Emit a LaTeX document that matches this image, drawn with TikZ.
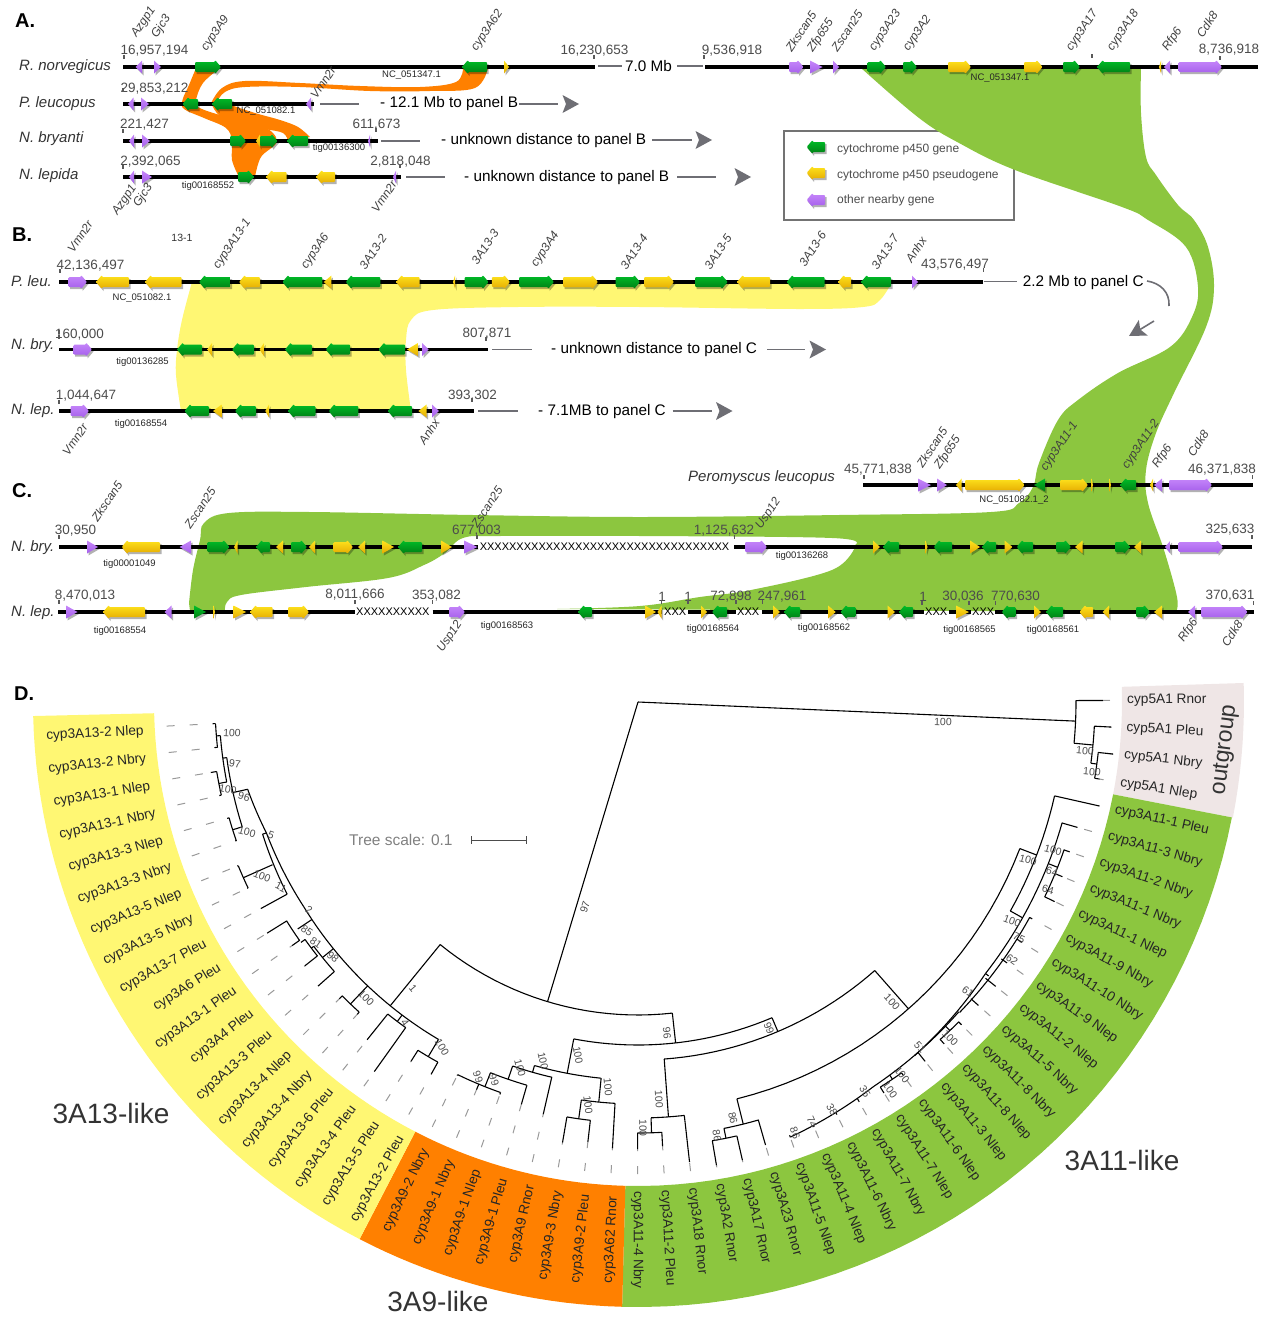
\documentclass[tikz,border=0pt]{standalone}
\usepackage{fontspec}
\setmainfont{Liberation Sans}
\usetikzlibrary{arrows.meta,positioning,calc}
\definecolor{RibOrange}{RGB}{255,128,0}
\definecolor{RibYellow}{RGB}{255,247,115}
\definecolor{RibGreen}{RGB}{140,198,63}
\definecolor{RingGray}{RGB}{239,230,230}
\definecolor{GapGray}{RGB}{110,110,116}
\definecolor{GeneGreenTop}{RGB}{0,190,40}
\definecolor{GeneGreenLow}{RGB}{0,125,20}
\definecolor{GeneYellowTop}{RGB}{255,228,30}
\definecolor{GeneYellowLow}{RGB}{228,170,0}
\definecolor{GenePurpleTop}{RGB}{198,135,250}
\definecolor{GenePurpleLow}{RGB}{165,95,235}
\newcount\nodeid
\newcommand{\fsz}[1]{\fontsize{#1}{#1}\selectfont}
% gene arrow: style, tail x, tip x, y
\newcommand{\gn}[4]{%
  \pgfmathsetmacro{\hx}{#3-6*sign(#3-#2)}%
  \fill[geneshadow] (#2,#4-5) -- (\hx,#4-5) -- (\hx,#4-7) -- (#3,#4) -- (\hx,#4+7) -- (\hx,#4+5) -- (#2,#4+5) -- cycle;
  \path[#1,rounded corners=1pt] (#2,#4-5) -- (\hx,#4-5) -- (\hx,#4-7) -- (#3,#4) -- (\hx,#4+7) -- (\hx,#4+5) -- (#2,#4+5) -- cycle;
}
% triangle gene: style, base x, tip x, y
\newcommand{\tr}[4]{%
  \fill[geneshadow] (#2,#4-6.5) -- (#3,#4) -- (#2,#4+6.5) -- cycle;
  \path[#1] (#2,#4-6.5) -- (#3,#4) -- (#2,#4+6.5) -- cycle;
}
% tick over a sequence end
\newcommand{\tk}[2]{\draw[seqtick] (#1,#2) -- ++(0,4);}
% grey head of a gap arrow: tip x, tip y, angle
\newcommand{\chev}[3]{\fill[GapGray,shift={(#1,#2)},rotate=#3] (-16.5,-9) -- (0,0) -- (-16.5,9) -- (-13,0) -- cycle;}
% tree pieces, in polar coordinates round the ring centre
\newcommand{\tstem}[3]{\draw[tree] (#1:#2) -- (#1:#3);}
\newcommand{\tarc}[3]{\draw[tree] plot[domain=#1:#2,samples=24] (\x:#3);}
\newcommand{\tspir}[4]{\draw[tree] plot[domain=#1:#2,samples=24] (\x:{#3+(#4-#3)*(\x-#1)/(#2-#1)});}
\newcommand{\ttip}[3]{%
  \pgfmathsetmacro{\ta}{3.223*#1-0.19}%
  \draw[leader] (\ta:472) -- (\ta:#3);
  \draw[tree] (\ta:#2) -- (\ta:#3);
}
\begin{document}
\begin{tikzpicture}[x=1pt,y=-1pt,
    autoname/.code={\global\advance\nodeid by 1 \tikzset{name=n\the\nodeid}},
    every node/.append style={autoname},
    geneg/.style={top color=GeneGreenTop,bottom color=GeneGreenLow},
    geney/.style={top color=GeneYellowTop,bottom color=GeneYellowLow},
    genep/.style={top color=GenePurpleTop,bottom color=GenePurpleLow},
    geneshadow/.style={black,opacity=0.3,shift={(1.5,2)}},
    seqline/.style={line width=3.6pt,black},
    gapline/.style={line width=1.6pt,GapGray},
    seqtick/.style={line width=1.2pt,black!65},
    seqpos/.style={font=\fsz{13.5},text=black!70,inner sep=0pt,yshift=-1.5pt},
    contig/.style={font=\fsz{9.5},text=black!85,inner sep=0pt},
    genelab/.style={font=\fsz{12}\itshape,text=black!75,rotate=56,anchor=west,inner sep=0pt,xshift=2pt},
    species/.style={font=\fsz{15}\itshape,text=black!80,anchor=west,inner sep=0pt,yshift=-1.5pt},
    gaptext/.style={font=\fsz{15.3},anchor=west,inner sep=0pt,yshift=-1.5pt},
    panellab/.style={font=\fsz{20}\bfseries,anchor=west,inner sep=0pt},
    xxx/.style={font=\fsz{11},anchor=west,inner sep=0pt},
    legtext/.style={font=\fsz{12},text=black!70,anchor=west,inner sep=0pt,yshift=-1pt},
    tree/.style={line width=1.1pt,black},
    leader/.style={line width=1pt,black!40,dash pattern=on 8pt off 15pt},
    bs/.style={font=\fsz{10.5},text=black!70,inner sep=0pt},
    tiplab/.style={font=\fsz{13.7},text=black!85,inner sep=0pt},
    cladelab/.style={font=\fsz{28},text=black!80,inner sep=0pt}
  ]
    \useasboundingbox (0,0) rectangle (1265,1317);

    % legend frame goes under the ribbons
    \draw[line width=2.4pt,black!55] (784,131) rectangle (1014,220);

    % ribbons
    \fill[RibOrange] plot[smooth,tension=.6] coordinates {(196,68) (189,85) (182.5,100) (184,109) (204,118) (226,128) (232,141) (232,160) (239,177)}
      -- plot[smooth,tension=.6] coordinates {(255,177) (261,157) (277,141) (261,125) (220,115) (198,107) (196,100) (203,83) (220,68)} -- cycle;
    \fill[RibOrange] plot[smooth,tension=.6] coordinates {(463,68) (456,82) (420,87) (360,86) (300,83) (245,81) (222,88) (210.6,104)}
      -- plot[smooth,tension=.6] coordinates {(217,102) (225,92) (245,87) (300,87) (370,91) (430,91) (475,88) (488,68)} -- cycle;
    \fill[RibOrange] plot[smooth,tension=.6] coordinates {(212,105) (220,116) (240,124) (265,129) (283,133) (288,141)}
      -- plot[smooth,tension=.6] coordinates {(310,137) (298,127) (280,120) (255,113) (231,105)} -- cycle;
    \fill[RibYellow] plot[smooth,tension=.6] coordinates {(192,282) (182,320) (177,350) (176,375) (181,411)}
      -- plot[smooth,tension=.6] coordinates {(411,411) (406,370) (406,340) (411,320) (433,310) (518,307) (640,307) (799,309) (863,307) (880,300) (892,282)} -- cycle;
    \fill[RibGreen] (861,68)
      -- plot[smooth,tension=.6] coordinates {(1141,68) (1141,113) (1146,157) (1156,175) (1178,205) (1194,220) (1208,247) (1214,287) (1206,327) (1174,393) (1156,433) (1146,470) (1148,503) (1164,550) (1177,597) (1176,612)}
      -- plot[smooth,tension=.6] coordinates {(557,609) (640,606) (700,597) (751,590) (832,570) (855,547)}
      -- plot[smooth,tension=.6] coordinates {(855,545) (832,538) (640,536) (500,536) (463,538) (445,553) (424,565) (388,578) (306,587) (241,595) (227,602) (225,611)}
      -- (190,611)
      -- plot[smooth,tension=.6] coordinates {(189,603) (193,570) (200,540) (204,523) (229,513) (310,512) (473,515) (640,517) (839,515) (991,512) (1019,503) (1033,487) (1039,463) (1058,420) (1078,400) (1118,373) (1170,347) (1192,317) (1198,287) (1186,247) (1148,220) (1122,207) (1015,170) (959,143) (919,118) (861,68)} -- cycle;

    \node[panellab] (panA) at (15,21) {A.};
    \node[panellab] (panB) at (12,235) {B.};
    \node[panellab] (panC) at (12,491) {C.};
    \node[panellab] (panD) at (14,694) {D.};

    % panel A
    \node[species] (rnor) at (19,65) {R. norvegicus};
    \node[species] (pleu) at (19,102) {P. leucopus};
    \node[species] (nbry) at (19,137) {N. bryanti};
    \node[species] (nlep) at (19,174) {N. lepida};
    \draw[seqline] (123,67) -- (595,67);
    \draw[seqline] (705,67) -- (1258,67);
    \draw[seqline] (123,104) -- (314,104);
    \draw[seqline] (123,141) -- (378,141);
    \draw[seqline] (123,177) -- (401,177);
    \draw[gapline] (598,66) -- (622,66);
    \draw[gapline] (677,66) -- (703,66);
    \draw[gapline] (320,104) -- (359,104);
    \draw[gapline] (519,104) -- (558,104);
    \draw[gapline] (381,141) -- (420,141);
    \draw[gapline] (652,140) -- (692,140);
    \draw[gapline] (406,177) -- (445,177);
    \draw[gapline] (677,177) -- (716,177);
    \chev{579}{104}{0}
    \chev{712}{140}{0}
    \chev{751}{177}{0}
    \node[gaptext] at (625,65) {7.0 Mb};
    \node[gaptext] at (380,102) {- 12.1 Mb to panel B};
    \node[gaptext] at (441,139) {- unknown distance to panel B};
    \node[gaptext] at (464,176) {- unknown distance to panel B};
    \tr{genep}{142}{135.5}{67} \tr{genep}{154}{161}{67}
    \gn{geneg}{195}{221}{67} \gn{geneg}{487}{462}{67} \tr{geney}{504}{509}{67}
    \gn{genep}{789}{803.5}{67} \tr{genep}{810}{822.5}{67} \tr{genep}{833}{839}{67}
    \gn{geneg}{867.6}{886}{67} \gn{geneg}{903}{917}{67} \gn{geney}{948}{971}{67}
    \gn{geney}{1024}{1042.5}{67} \gn{geneg}{1063}{1080}{67} \gn{geneg}{1130}{1097}{67}
    \tr{geney}{1161}{1159}{67} \tr{genep}{1170}{1164}{67} \gn{genep}{1178.5}{1222}{67}
    \tr{genep}{133.5}{128}{104} \tr{genep}{141}{149}{104}
    \gn{geneg}{198}{182.5}{104} \gn{geneg}{232}{212}{104} \tr{genep}{311}{306}{104}
    \tr{genep}{134}{129}{141} \tr{genep}{142}{150}{141}
    \gn{geneg}{230}{246}{141} \tr{geney}{260}{256}{141} \gn{geneg}{260}{277.5}{141}
    \gn{geneg}{308}{287}{141} \tr{genep}{370}{368}{141}
    \tr{genep}{134}{129}{177} \tr{genep}{142}{152}{177}
    \gn{geneg}{238}{254}{177} \gn{geney}{286.5}{266}{177} \gn{geney}{335}{316}{177}
    \tr{genep}{396}{393}{177}
    \node[seqpos] at (154.5,49) {16,957,194};
    \node[seqpos] at (594.5,49) {16,230,653};
    \node[seqpos] at (732,49) {9,536,918};
    \node[seqpos] at (1229,48) {8,736,918};
    \node[seqpos] at (154.5,87) {29,853,212};
    \node[seqpos] at (144.5,123) {221,427};
    \node[seqpos] at (376.5,123) {611,673};
    \node[seqpos] at (150.5,160) {2,392,065};
    \node[seqpos] at (400.5,160) {2,818,048};
    \tk{124}{55} \tk{594}{55} \tk{704}{55} \tk{1220}{56} \tk{1092}{54} \tk{123}{88}
    \tk{123}{129} \tk{376}{128} \tk{123}{165} \tk{400}{164}
    \node[contig] at (411.5,75) {NC\_051347.1};
    \node[contig] at (1000,78) {NC\_051347.1};
    \node[contig] at (266,111) {NC\_051082.1};
    \node[contig] at (339,148) {tig00136300};
    \node[contig] at (208,186) {tig00168552};
    \node[genelab] at (133,38) {Azgp1};
    \node[genelab] at (153,39) {Gjc3};
    \node[genelab] at (203,52) {cyp3A9};
    \node[genelab] at (473,52) {cyp3A62};
    \node[genelab] at (312,99) {Vmn2r};
    \node[genelab] at (114,216) {Azgp1};
    \node[genelab] at (135,208) {Gjc3};
    \node[genelab] at (373,213) {Vmn2r};
    \node[genelab] at (787,52) {Zkscan5};
    \node[genelab] at (809,53) {Zfp655};
    \node[genelab] at (833,52) {Zscan25};
    \node[genelab] at (871,52) {cyp3A23};
    \node[genelab] at (905,52) {cyp3A2};
    \node[genelab] at (1068,52) {cyp3A17};
    \node[genelab] at (1109,52) {cyp3A18};
    \node[genelab] at (1164,52) {Rfp6};
    \node[genelab] at (1198,38) {Cdk8};

    % legend
    \gn{geneg}{825}{806.6}{147}
    \gn{geney}{825}{806.6}{173}
    \gn{genep}{825}{806.6}{200}
    \node[legtext] at (837,148) {cytochrome p450 gene};
    \node[legtext] at (837,174) {cytochrome p450 pseudogene};
    \node[legtext] at (837,199) {other nearby gene};

    % panel B
    \node[species] (bpleu) at (11,280) {P. leu.};
    \node[species] (bnbry) at (11,344) {N. bry.};
    \node[species] (bnlep) at (11,409) {N. lep.};
    \draw[seqline] (59,282) -- (983,282);
    \draw[seqline] (59,349.5) -- (488,349.5);
    \draw[seqline] (59,411) -- (473.5,411);
    \draw[gapline,line width=1pt] (983.5,281) -- (1016.6,281);
    \draw[gapline] (492,349.5) -- (531.5,349.5);
    \draw[gapline] (478,411) -- (517.5,411);
    \draw[gapline] (767,349.5) -- (805,349.5);
    \draw[gapline] (672.7,411) -- (711.7,411);
    \chev{826}{349.5}{0}
    \chev{732.5}{411}{0}
    \draw[gapline] (1147,281) .. controls (1160,283) and (1170,292) .. (1169,306);
    \draw[gapline] (1154,321) -- (1136,332);
    \chev{1129}{336}{210}
    \node[gaptext] at (1022.6,281) {2.2 Mb to panel C};
    \node[gaptext] at (551,348) {- unknown distance to panel C};
    \node[gaptext] at (538,410) {- 7.1MB to panel C};
    \gn{genep}{68.5}{87}{282} \gn{geney}{129}{96}{282} \gn{geney}{181.6}{145}{282}
    \gn{geneg}{230.6}{199}{282} \gn{geney}{260}{239}{282} \gn{geneg}{322.4}{282.4}{282}
    \tr{geney}{331.4}{323.7}{282} \gn{geneg}{380.4}{345.7}{282} \gn{geney}{419.6}{396}{282}
    \tr{geney}{455}{453}{282} \gn{geneg}{464.5}{488.6}{282} \gn{geney}{491.8}{510}{282}
    \gn{geneg}{519}{554}{282} \gn{geney}{563}{598}{282} \gn{geneg}{615.5}{640}{282}
    \gn{geney}{644}{674}{282} \gn{geneg}{695}{727.7}{282} \gn{geney}{770}{737}{282}
    \gn{geneg}{824.5}{786.7}{282} \gn{geney}{851}{838}{282} \gn{geneg}{891}{861}{282}
    \tr{genep}{912}{918}{282}
    \gn{genep}{73.5}{92}{349.5} \gn{geneg}{202}{177}{349.5} \tr{geney}{212}{207.3}{349.5}
    \gn{geneg}{254}{232}{349.5} \tr{geney}{264}{259.6}{349.5} \gn{geneg}{312}{285}{349.5}
    \gn{geneg}{350}{325.7}{349.5} \gn{geneg}{405}{378.4}{349.5} \tr{geney}{418}{407}{349.5}
    \tr{genep}{422}{428.6}{349.5}
    \gn{genep}{70.6}{89}{411} \gn{geneg}{209}{184.5}{411} \tr{geney}{221.6}{213}{411}
    \gn{geneg}{256}{235}{411} \tr{geney}{269}{265.3}{411} \gn{geneg}{315.5}{288}{411}
    \gn{geneg}{358.4}{328.6}{411} \gn{geneg}{412}{387.8}{411} \tr{geney}{426.5}{418.4}{411}
    \tr{genep}{432}{439}{411}
    \node[seqpos] at (90.5,264) {42,136,497};
    \node[seqpos] at (955,263) {43,576,497};
    \node[seqpos] at (79.5,333) {160,000};
    \node[seqpos] at (487,332) {807,871};
    \node[seqpos] at (86,394) {1,044,647};
    \node[seqpos] at (472.5,394) {393,302};
    \tk{60}{269} \tk{983.5}{268} \tk{59}{330} \tk{59}{335} \tk{486}{337} \tk{59}{400} \tk{472}{398}
    \node[contig] at (142,298) {NC\_051082.1};
    \node[contig] at (142.5,362) {tig00136285};
    \node[contig] at (141,424) {tig00168554};
    \node[font=\fsz{10.5},text=black!80,inner sep=0pt] at (182,238) {13-1};
    \node[genelab] at (69,253) {Vmn2r};
    \node[genelab] at (215,270) {cyp3A13-1};
    \node[genelab] at (303,270) {cyp3A6};
    \node[genelab] at (361,270) {3A13-2};
    \node[genelab] at (473,265) {3A13-3};
    \node[genelab] at (533,268) {cyp3A4};
    \node[genelab] at (622,270) {3A13-4};
    \node[genelab] at (706,270) {3A13-5};
    \node[genelab] at (800.6,267) {3A13-6};
    \node[genelab] at (873,270) {3A13-7};
    \node[genelab] at (907,263) {Anhx};
    \node[genelab] at (64,456) {Vmn2r};
    \node[genelab] at (420,445) {Anhx};

    % Peromyscus row
    \node[species] (perom) at (688,476) {Peromyscus leucopus};
    \draw[seqline] (863,485) -- (1252.6,485);
    \tr{genep}{918}{931}{485} \tr{genep}{937}{947}{485} \tr{geney}{961.6}{956}{485}
    \gn{geney}{965}{1024.6}{485} \tr{geneg}{1045}{1034}{485} \gn{geney}{1060}{1088}{485}
    \tr{geney}{1091.6}{1093}{485} \tr{geney}{1109.5}{1111}{485} \gn{geneg}{1136}{1120}{485}
    \tr{geney}{1153}{1150}{485} \tr{genep}{1162}{1154}{485} \gn{genep}{1169}{1212}{485}
    \node[seqpos] at (878,468) {45,771,838};
    \node[seqpos] at (1222,468) {46,371,838};
    \tk{864}{475} \tk{1252.6}{475}
    \node[contig] at (1014,500) {NC\_051082.1\_2};
    \node[genelab] at (918,468) {Zkscan5};
    \node[genelab] at (936,470) {Zfp655};
    \node[genelab] at (1042.5,472) {cyp3A11-1};
    \node[genelab] at (1124,470) {cyp3A11-2};
    \node[genelab] at (1154,469) {Rfp6};
    \node[genelab] at (1189,457) {Cdk8};

    % panel C
    \node[species] (cnbry) at (11,546) {N. bry.};
    \node[species] (cnlep) at (11,611) {N. lep.};
    \draw[seqline] (59,547) -- (477.5,547);
    \draw[seqline] (734,547) -- (1251.5,547);
    \draw[seqline] (58,612) -- (355,612);
    \draw[seqline] (432.6,612) -- (661.6,612);
    \draw[seqline] (688,612) -- (736,612);
    \draw[seqline] (762,612) -- (923.5,612);
    \draw[seqline] (949,612) -- (971,612);
    \draw[seqline] (995,612) -- (1253.5,612);
    \node[xxx] at (479.6,547) {XXXXXXXXXXXXXXXXXXXXXXXXXXXXXXXXXX};
    \node[xxx] at (356,612) {XXXXXXXXXX};
    \node[xxx] at (664,612) {XXX};
    \node[xxx] at (737,612) {XXX};
    \node[xxx] at (925,612) {XXX};
    \node[xxx] at (972,612) {XXX};
    \tr{genep}{87}{98}{547} \gn{geney}{160}{121.6}{547} \tr{genep}{191}{179.6}{547}
    \gn{geneg}{207.3}{229.4}{547} \tr{geney}{237.5}{234}{547} \gn{geneg}{270}{256}{547}
    \tr{geney}{283}{276}{547} \gn{geneg}{291}{307}{547} \tr{geney}{315}{309}{547}
    \gn{geney}{333.5}{353}{547} \tr{geney}{365}{358}{547} \tr{geney}{382.4}{394}{547}
    \gn{geneg}{422}{398}{547} \tr{geney}{441}{452}{547} \tr{genep}{464}{477.5}{547}
    \gn{genep}{745}{767}{547} \tr{geney}{873}{880}{547} \gn{geneg}{899}{883}{547}
    \tr{geney}{925.5}{927.5}{547} \gn{geneg}{952}{933.6}{547} \tr{geney}{970}{980}{547}
    \gn{geneg}{996}{982}{547} \tr{geney}{1004.5}{1012.6}{547} \gn{geneg}{1033}{1016.6}{547}
    \gn{geneg}{1056}{1071}{547} \tr{geney}{1082.6}{1075}{547} \gn{geneg}{1115}{1130}{547}
    \tr{geney}{1141}{1134}{547} \tr{genep}{1170.5}{1165}{547} \gn{genep}{1178.6}{1223}{547}
    \tr{genep}{66}{77.5}{612} \gn{geney}{145}{103}{612} \tr{genep}{171.5}{164.5}{612}
    \tr{geneg}{194}{206}{612} \tr{geney}{213.5}{215}{612} \tr{geney}{233.5}{246}{612}
    \gn{geney}{272.6}{250}{612} \gn{geney}{288}{309}{612} \gn{genep}{449}{465}{612}
    \gn{geneg}{592}{578}{612} \tr{geney}{645}{656}{612} \tr{geney}{661.5}{657.5}{612}
    \tr{geney}{701}{707}{612} \gn{geneg}{727}{712}{612} \tr{geney}{773}{780}{612}
    \gn{geneg}{800}{784}{612} \tr{geney}{828}{835.7}{612} \gn{geneg}{855.5}{840.5}{612}
    \tr{geney}{887.5}{895}{612} \gn{geneg}{913}{899}{612} \tr{geney}{956}{969}{612}
    \gn{geneg}{1015.5}{1001.7}{612} \tr{geney}{1034}{1041}{612} \gn{geneg}{1063}{1046}{612}
    \gn{geney}{1093}{1079.4}{612} \tr{geney}{1109}{1102.5}{612} \gn{geneg}{1136}{1150}{612}
    \tr{geney}{1162}{1154}{612} \tr{genep}{1195}{1188}{612} \gn{genep}{1201}{1247.5}{612}
    \node[seqpos] at (75.5,529) {30,950};
    \node[seqpos] at (476.5,529) {677,003};
    \node[seqpos] at (724,529) {1,125,632};
    \node[seqpos] at (1230,528) {325,633};
    \node[seqpos] at (85,594) {8,470,013};
    \node[seqpos] at (355,593) {8,011,666};
    \node[seqpos] at (436.5,594) {353,082};
    \node[seqpos] at (662,595) {1};
    \node[seqpos] at (688,595) {1};
    \node[seqpos] at (731,595) {72,898};
    \node[seqpos] at (782,595) {247,961};
    \node[seqpos] at (923,595) {1};
    \node[seqpos] at (963,595) {30,036};
    \node[seqpos] at (1015.5,595) {770,630};
    \node[seqpos] at (1230,594) {370,631};
    \tk{59}{535} \tk{477}{535} \tk{734.5}{535} \tk{1252}{535} \tk{59}{600} \tk{355}{600}
    \tk{432.6}{600} \tk{661.6}{600} \tk{688}{600} \tk{736}{600} \tk{762.4}{600}
    \tk{922}{601} \tk{969}{601} \tk{995.6}{601} \tk{1253.5}{601}
    \node[contig] at (129.5,564) {tig00001049};
    \node[contig] at (802,556) {tig00136268};
    \node[contig] at (120,631) {tig00168554};
    \node[contig] at (507,626) {tig00168563};
    \node[contig] at (713,629) {tig00168564};
    \node[contig] at (824,628) {tig00168562};
    \node[contig] at (969.5,630) {tig00168565};
    \node[contig] at (1053,630) {tig00168561};
    \node[genelab] at (93,522) {Zkscan5};
    \node[genelab] at (186,529) {Zscan25};
    \node[genelab] at (473,528) {Zscan25};
    \node[genelab] at (757.5,530) {Usp12};
    \node[genelab] at (439,653) {Usp12};
    \node[genelab] at (1180,643) {Rfp6};
    \node[genelab] at (1223,647) {Cdk8};

    % panel D
    \begin{scope}[shift={(638,702)}]
      \fill[RingGray] plot[domain=-1.8:11,samples=10] (\x:484) -- plot[domain=11:-1.8,samples=10] (\x:606) -- cycle;
      \fill[RibGreen] plot[domain=11:91.5,samples=40] (\x:484) -- plot[domain=91.5:11,samples=40] (\x:605) -- cycle;
      \fill[RibOrange] plot[domain=91.5:117.4,samples=20] (\x:484) -- plot[domain=117.4:91.5,samples=20] (\x:605) -- cycle;
      \fill[RibYellow] plot[domain=117.4:178.67,samples=40] (\x:484) -- plot[domain=178.67:117.4,samples=40] (\x:605) -- cycle;
      \foreach \lab [count=\i from 0] in {cyp5A1 Rnor,cyp5A1 Pleu,cyp5A1 Nbry,cyp5A1 Nlep,
          cyp3A11-1 Pleu,cyp3A11-3 Nbry,cyp3A11-2 Nbry,cyp3A11-1 Nbry,cyp3A11-1 Nlep,cyp3A11-9 Nbry,
          cyp3A11-10 Nbry,cyp3A11-9 Nlep,cyp3A11-2 Nlep,cyp3A11-5 Nbry,cyp3A11-8 Nbry,cyp3A11-8 Nlep,
          cyp3A11-3 Nlep,cyp3A11-6 Nlep,cyp3A11-7 Nlep,cyp3A11-7 Nbry,cyp3A11-6 Nbry,cyp3A11-4 Nlep,
          cyp3A11-5 Nlep,cyp3A23 Rnor,cyp3A17 Rnor,cyp3A2 Rnor,cyp3A18 Rnor,cyp3A11-2 Pleu,cyp3A11-4 Nbry,
          cyp3A62 Rnor,cyp3A9-2 Pleu,cyp3A9-3 Nbry,cyp3A9 Rnor,cyp3A9-1 Pleu,cyp3A9-1 Nlep,cyp3A9-1 Nbry,cyp3A9-2 Nbry,
          cyp3A13-2 Pleu,cyp3A13-5 Pleu,cyp3A13-4 Pleu,cyp3A13-6 Pleu,cyp3A13-4 Nbry,cyp3A13-4 Nlep,cyp3A13-3 Pleu,
          cyp3A4 Pleu,cyp3A13-1 Pleu,cyp3A6 Pleu,cyp3A13-7 Pleu,cyp3A13-5 Nbry,cyp3A13-5 Nlep,cyp3A13-3 Nbry,
          cyp3A13-3 Nlep,cyp3A13-1 Nbry,cyp3A13-1 Nlep,cyp3A13-2 Nbry,cyp3A13-2 Nlep} {
        \pgfmathsetmacro{\ang}{3.223*\i-0.19}
        \pgfmathsetmacro{\angL}{\ang-0.45}
        \ifnum\i<29
          \node[tiplab,rotate=-\ang,anchor=west] at (\ang:489) {\lab};
        \else
          \node[tiplab,rotate=180-\ang,anchor=east] at (\angL:495) {\lab};
        \fi
      }
      % outgroup
      \tstem{2.5}{0}{438} \tarc{-0.2}{5.4}{438} \ttip{0}{438}{465} \tstem{5.4}{438}{457}
      \tarc{3.03}{7.7}{457} \ttip{1}{457}{474} \tstem{7.7}{457}{463} \tarc{6.26}{9.48}{463}
      \ttip{2}{463}{478} \ttip{3}{463}{468}
      % backbone and 3A11-like side
      \tstem{106.8}{0}{313} \tarc{83.7}{129.2}{313} \tstem{83.7}{313}{343} \tarc{67}{100.8}{343}
      \tstem{67}{343}{358} \tarc{48.6}{85.8}{358} \tstem{48.6}{358}{409} \tarc{21}{76}{409}
      \tstem{21}{409}{427} \tarc{12.7}{29.3}{427} \ttip{4}{427}{473} \tstem{29.3}{427}{441}
      \tarc{15.9}{38}{441} \ttip{5}{441}{457} \tstem{21.5}{441}{451} \tarc{19.1}{25.6}{451}
      \ttip{6}{451}{457} \ttip{7}{451}{459} \ttip{8}{451}{462}
      \tstem{38}{441}{445} \tspir{38}{52}{441}{449} \tarc{28.8}{44}{447} \tspir{44}{58.6}{446}{451}
      \tspir{58.6}{70.7}{451}{461} \ttip{9}{447}{450} \ttip{10}{447}{453} \ttip{11}{445}{452}
      \ttip{12}{444}{457} \ttip{13}{446}{456} \tstem{46.5}{447}{453} \tarc{44.9}{48.2}{453}
      \ttip{14}{453}{457} \ttip{15}{453}{459} \ttip{16}{449}{460} \tstem{56}{450}{455}
      \tarc{54.6}{57.8}{455} \ttip{17}{455}{458} \ttip{18}{455}{462} \ttip{19}{453}{457}
      \ttip{20}{455}{458} \ttip{21}{458}{460} \ttip{22}{459}{461}
      \tstem{76}{409}{435} \tarc{73.9}{78.6}{435} \ttip{23}{435}{461} \tstem{78.6}{435}{445}
      \tarc{77.2}{80.4}{445} \ttip{24}{445}{470} \ttip{25}{445}{470}
      \tstem{85.8}{358}{416} \tarc{83.6}{88.2}{416} \ttip{26}{416}{463} \tstem{88.2}{416}{431}
      \tarc{86.8}{90.1}{431} \ttip{27}{431}{445} \ttip{28}{431}{447}
      % 3A9-like
      \tstem{100.8}{343}{378} \tarc{95.6}{105.9}{378} \tstem{95.6}{378}{402} \tarc{93.3}{98.1}{402}
      \ttip{29}{402}{447} \tstem{98.1}{402}{421} \tarc{96.5}{99.7}{421} \ttip{30}{421}{443}
      \ttip{31}{421}{447} \tstem{105.9}{378}{385} \tarc{102.9}{109}{385} \ttip{32}{385}{423}
      \tstem{109}{385}{399} \tarc{106.2}{111.7}{399} \ttip{33}{399}{419} \tstem{111.7}{399}{414}
      \tarc{109.4}{115.8}{414} \ttip{34}{414}{416} \ttip{35}{414}{420} \ttip{36}{414}{415}
      % 3A13-like
      \tstem{129.2}{313}{392} \tarc{120.6}{148.6}{392} \tstem{120.6}{392}{412} \tarc{119.1}{122.3}{412}
      \ttip{37}{412}{426} \ttip{38}{412}{425} \tstem{127}{392}{400} \tarc{125.5}{128.7}{400}
      \ttip{39}{400}{454} \ttip{40}{400}{433} \tstem{133.6}{392}{417} \tarc{132}{135.2}{417}
      \ttip{41}{417}{420} \ttip{42}{417}{421} \tstem{141}{392}{406} \tarc{138.4}{143}{406}
      \ttip{43}{406}{428} \tstem{143}{406}{409} \tarc{141.6}{144.5}{409} \ttip{44}{409}{425}
      \tstem{144.5}{409}{414} \tarc{144.8}{148.1}{414} \ttip{45}{414}{423} \ttip{46}{414}{437}
      \tstem{146.3}{392}{409}
      \tspir{148.6}{160.6}{392}{394} \tspir{160.6}{167.4}{394}{400} \tspir{151.3}{160.6}{400}{398}
      \tstem{160.6}{394}{398} \tstem{156}{400}{432} \tarc{154.5}{157.7}{432} \ttip{48}{432}{433}
      \ttip{49}{432}{433} \ttip{47}{400}{430}
      \tstem{167.4}{400}{415} \tarc{162.5}{172.3}{415} \tstem{162.5}{415}{425} \tarc{160.9}{164.2}{425}
      \ttip{50}{425}{426} \ttip{51}{425}{427} \tstem{172.3}{415}{419} \tarc{169}{175.4}{419}
      \tstem{169}{419}{427} \tarc{167.4}{170.6}{427} \ttip{52}{427}{429} \ttip{53}{427}{433}
      \tstem{175.4}{419}{423} \tarc{173.8}{177}{423} \ttip{54}{423}{426} \ttip{55}{423}{426}
    \end{scope}

    % bootstrap values
    \node[bs,rotate=-3] at (232,733) {100};
    \node[bs,rotate=-8] at (235,764) {97};
    \node[bs,rotate=-10] at (228,789) {100};
    \node[bs,rotate=-15] at (244,797) {96};
    \node[bs,rotate=-15] at (247,832) {100};
    \node[bs,rotate=-20] at (271,835) {5};
    \node[bs,rotate=-22] at (262,876) {100};
    \node[bs,rotate=-28] at (281,887) {11};
    \node[bs,rotate=-32] at (309,910) {2};
    \node[bs,rotate=-35] at (307,931) {85};
    \node[bs,rotate=-35] at (316,943) {81};
    \node[bs,rotate=-40] at (333,957) {98};
    \node[bs,rotate=-45] at (366,998) {100};
    \node[bs,rotate=-55] at (405,1023) {4};
    \node[bs,rotate=-50] at (413,988) {1};
    \node[bs,rotate=-60] at (442,1047) {100};
    \node[bs,rotate=-70] at (478,1077) {99};
    \node[bs,rotate=-70] at (494,1080) {99};
    \node[bs,rotate=-75] at (520,1068) {100};
    \node[bs,rotate=-78] at (543,1061) {100};
    \node[bs,rotate=-80] at (578,1055) {100};
    \node[bs,rotate=-85] at (608,1087) {100};
    \node[bs,rotate=-83] at (588,1105) {100};
    \node[bs,rotate=72] at (585,907) {97};
    \node[bs,rotate=-85] at (667,1033) {96};
    \node[bs,rotate=-67] at (769,1028) {99};
    \node[bs,rotate=-87] at (659,1099) {100};
    \node[bs,rotate=-90] at (643,1128) {100};
    \node[bs,rotate=-77] at (733,1118) {86};
    \node[bs,rotate=-80] at (717,1136) {86};
    \node[bs,rotate=-70] at (795,1133) {86};
    \node[bs,rotate=-65] at (812,1122) {74};
    \node[bs,rotate=-60] at (832,1110) {38};
    \node[bs,rotate=-58] at (865,1092) {35};
    \node[bs,rotate=-48] at (892,1002) {100};
    \node[bs,rotate=-52] at (902,1075) {100};
    \node[bs,rotate=-55] at (890,1090) {100};
    \node[bs,rotate=-45] at (950,1038) {100};
    \node[bs,rotate=-48] at (920,1047) {51};
    \node[bs,rotate=-35] at (968,992) {61};
    \node[bs,rotate=-35] at (1012,960) {62};
    \node[bs,rotate=-25] at (1019,938) {75};
    \node[bs,rotate=-20] at (1012,921) {100};
    \node[bs,rotate=-15] at (1028,860) {100};
    \node[bs,rotate=-15] at (1053,850) {100};
    \node[bs,rotate=-15] at (1052,872) {64};
    \node[bs,rotate=-15] at (1048,890) {64};
    \node[bs,rotate=-5] at (1085,751) {100};
    \node[bs,rotate=-5] at (1092,772) {100};
    \node[bs,rotate=-2] at (943,722) {100};

    % scale and group names
    \node[font=\fsz{15.5},text=black!50,inner sep=0pt,anchor=west] (tscale) at (349,840) {Tree scale: 0.1};
    \coordinate (sbl) at (471,840);
    \coordinate (sbr) at (526,840);
    \draw[line width=1pt,black!70] (sbl) -- (sbr);
    \draw[line width=1pt,black!70] ($(sbl)+(0,-4)$) -- ($(sbl)+(0,4)$);
    \draw[line width=1pt,black!70] ($(sbr)+(0,-4)$) -- ($(sbr)+(0,4)$);
    \node[cladelab] (c13) at (111,1113) {3A13-like};
    \node[cladelab] (c9) at (438,1301) {3A9-like};
    \node[cladelab] (c11) at (1122,1160) {3A11-like};
    \node[font=\fsz{23},text=black!80,inner sep=0pt,rotate=83] (cout) at (1225,750) {outgroup};
  \end{tikzpicture}
\end{document}
